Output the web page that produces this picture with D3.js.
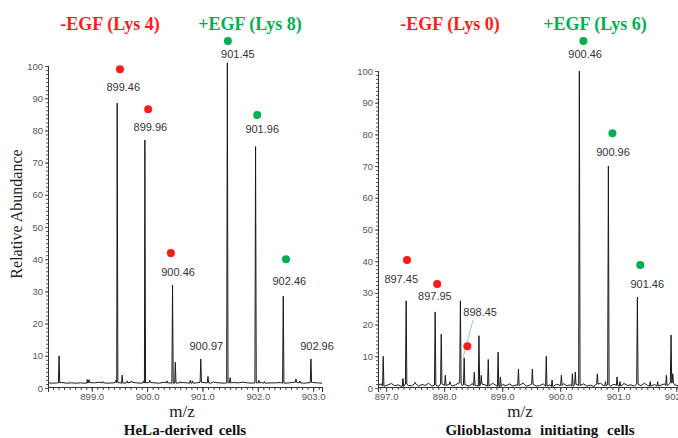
<!DOCTYPE html>
<html>
<head>
<meta charset="utf-8">
<script src="https://cdn.jsdelivr.net/npm/d3@7"></script>
<style>
body { margin: 0; background: #fff; }
svg { display: block; }
.serif { font-family: "Liberation Serif", "DejaVu Serif", "Times New Roman", Times, serif; }
.sans { font-family: "Liberation Sans", Arial, sans-serif; }
</style>
</head>
<body>
<svg id="chart"></svg>
<script>
// HeLa spectrum: [m/z, relative abundance]
const helaPeaks = [
    [898.41, 10], [898.92, 2.6], [898.95, 2.6], [899.20, 2.0], [899.44, 2.4],
    [899.46, 88.5], [899.55, 4.0], [899.64, 2.2], [899.72, 2.2], [899.94, 2.2],
    [899.96, 77], [900.05, 2.4], [900.36, 2.2], [900.46, 32], [900.51, 8],
    [900.60, 2.0], [900.78, 2.4], [900.82, 2.2], [900.97, 9], [901.10, 3.6],
    [901.20, 2.0], [901.45, 101], [901.50, 3.2], [901.96, 75], [902.02, 2.4],
    [902.12, 2.0], [902.46, 28.5], [902.69, 2.8], [902.76, 2.2], [902.96, 9]
];
const helaNoise = [1.6, 1.5, 1.6, 1.7, 1.5, 1.6, 1.5, 1.6, 1.5, 1.7, 1.6, 1.8, 1.6, 1.5, 1.6,
    1.7, 1.5, 1.6, 1.8, 1.6, 1.5, 1.6, 1.7, 1.6, 1.5, 1.8, 1.6, 1.5, 1.6, 1.7, 1.6, 1.5, 1.6,
    1.8, 1.6, 1.5, 1.7, 1.6, 1.5, 1.6, 1.7, 1.6, 1.8, 1.6, 1.5, 1.6, 1.7, 1.5, 1.6, 1.6, 1.7,
    1.5, 1.6, 1.8, 1.6, 1.5, 1.6, 1.7, 1.6, 1.5];
const helaTicks = [899, 900, 901, 902, 903];
// isotope annotations: group, label, dot (m/z, level), text (m/z, level)
const helaMarks = [
    { group: "minus", label: "899.46", dot: [899.51, 99], text: [899.57, 93.5] },
    { group: "minus", label: "899.96", dot: [900.02, 86.6], text: [900.06, 81] },
    { group: "minus", label: "900.46", dot: [900.43, 41.9], text: [900.56, 36] },
    { group: "none", label: "900.97", dot: null, text: [901.07, 13] },
    { group: "plus", label: "901.45", dot: [901.46, 107.8], text: [901.64, 103.7] },
    { group: "plus", label: "901.96", dot: [901.99, 84.8], text: [902.08, 80.4] },
    { group: "plus", label: "902.46", dot: [902.51, 40], text: [902.57, 33.2] },
    { group: "none", label: "902.96", dot: null, text: [903.07, 13] }
];

// Glioblastoma spectrum
const gbmPeaks = [
    [896.95, 10], [897.29, 3], [897.345, 27.5], [897.50, 1.8], [897.845, 24],
    [897.95, 17], [898.02, 4], [898.10, 2], [898.28, 27.5], [898.345, 9.5],
    [898.52, 5], [898.60, 16.5], [898.64, 4], [898.76, 9], [898.93, 11.3],
    [898.97, 3.5], [899.28, 6], [899.52, 6], [899.76, 10], [899.86, 2.5],
    [900.02, 4], [900.21, 4.5], [900.26, 5], [900.33, 100], [900.64, 4.5],
    [900.78, 2], [900.83, 70], [900.98, 3.5], [901.03, 2], [901.33, 28.7],
    [901.55, 2], [901.68, 2], [901.83, 4], [901.91, 16.7], [901.94, 4.5]
];
const gbmNoise = [0.8, 1.3, 0.6, 1.0, 1.4, 0.7, 1.0, 0.5, 1.2, 0.8, 0.7, 1.3, 0.6, 1.1, 0.8,
    1.5, 0.6, 0.9, 0.5, 1.3, 0.8, 1.1, 0.6, 1.0, 1.6, 0.7, 1.0, 0.6, 1.4, 0.8, 0.6, 1.2, 0.9,
    0.6, 1.5, 0.8, 0.5, 1.1, 0.7, 1.3, 0.6, 1.0, 0.8, 1.6, 0.6, 0.9, 1.2, 0.6, 0.8, 1.3, 0.6,
    1.0, 0.5, 1.2, 0.8, 1.4, 0.7, 1.0, 0.6, 1.1, 0.8, 1.3, 0.6, 0.9, 0.5, 1.2, 1.5, 0.7, 1.0,
    0.6, 1.2, 0.8, 0.6, 1.4, 0.8, 1.0, 0.6, 1.2, 0.7, 1.5, 0.8, 0.6, 1.1, 0.6, 0.9, 1.3, 0.8,
    1.6, 1.0, 0.7];
const gbmTicks = [897, 898, 899, 900, 901, 902];
const gbmMarks = [
    { group: "plus", label: "900.46", dot: [900.40, 109.5], text: [900.43, 105.4] },
    { group: "plus", label: "900.96", dot: [900.90, 80.4], text: [900.91, 74.4] },
    { group: "plus", label: "901.46", dot: [901.38, 38.8], text: [901.50, 32.8] },
    { group: "minus", label: "897.45", dot: [897.36, 40.4], text: [897.26, 34.4] },
    { group: "minus", label: "897.95", dot: [897.88, 32.8], text: [897.84, 29] },
    { group: "minus", label: "898.45", dot: [898.40, 13.2], text: [898.62, 24], leader: [[898.50, 21.5], [898.33, 9.8]] }
];

const yTicks = [0, 10, 20, 30, 40, 50, 60, 70, 80, 90, 100];

const width = 678, height = 438;
const red = "#ff1a1a", green = "#00b050";
const colorOf = g => g === "minus" ? red : green;

const svg = d3.select("#chart")
    .attr("width", width)
    .attr("height", height)
    .attr("class", "sans");

function drawPanel(p) {
    const x = d3.scaleLinear().domain(p.domain).range(p.xRange);
    const y = d3.scaleLinear().domain([0, 100]).range([p.y0, p.y100]);
    const g = svg.append("g");

    // spectrum trace: sampled baseline plus narrow peak profiles
    const w = 0.012;
    const step = (p.domain[1] - p.domain[0]) / (p.noise.length - 1);
    const base = m => p.noise[Math.max(0, Math.min(p.noise.length - 1, Math.round((m - p.domain[0]) / step)))];
    let pts = p.noise.map((v, i) => [p.domain[0] + i * step, v])
        .filter(([m]) => !p.peaks.some(([pm]) => Math.abs(pm - m) < w * 1.5));
    p.peaks.forEach(([m, h]) => {
        pts.push([m - w, base(m)], [m, h], [m + w, base(m)]);
    });
    pts.sort((a, b) => a[0] - b[0]);

    g.append("path")
        .datum(pts)
        .attr("fill", "none")
        .attr("stroke", "#1a1a1a")
        .attr("stroke-width", 1)
        .attr("d", d3.line().x(d => x(d[0])).y(d => y(d[1])));

    // x axis: minor ticks then labelled majors
    const axisY = p.y0 - 1;
    const minor = d3.range(Math.ceil(p.domain[0] * 10), Math.floor(p.domain[1] * 10) + 1).map(v => v / 10);
    const xa = g.append("g").attr("transform", `translate(0,${axisY})`);
    xa.call(d3.axisBottom(x).tickValues(minor).tickSize(3).tickFormat(""));
    xa.append("g").call(d3.axisBottom(x).tickValues(p.ticks).tickSize(5).tickFormat(d3.format(".1f")));
    xa.attr("font-family", null);
    xa.selectAll("g").attr("font-family", null);
    xa.selectAll(".domain").attr("stroke", "#333");
    xa.selectAll("line").attr("stroke", "#444");
    xa.selectAll("text").attr("fill", "#555").attr("font-size", 9.5).attr("dy", "0.55em");

    // y axis
    const ya = g.append("g").attr("transform", `translate(${p.xRange[0]},0)`);
    ya.call(d3.axisLeft(y).tickValues(d3.range(0, 101, 1.25)).tickSize(2).tickFormat(""));
    ya.append("g").call(d3.axisLeft(y).tickValues(yTicks).tickSize(3).tickPadding(2));
    ya.attr("font-family", null);
    ya.selectAll("g").attr("font-family", null);
    ya.selectAll(".domain").attr("stroke", "#333");
    ya.selectAll("line").attr("stroke", "#555");
    ya.selectAll("text").attr("fill", "#555").attr("font-size", 9.5);

    // annotations
    p.marks.forEach(mk => {
        if (mk.leader) {
            g.append("line")
                .attr("x1", x(mk.leader[0][0])).attr("y1", y(mk.leader[0][1]))
                .attr("x2", x(mk.leader[1][0])).attr("y2", y(mk.leader[1][1]))
                .attr("stroke", "#8fd88f").attr("stroke-width", 1);
        }
        if (mk.dot) {
            g.append("circle")
                .attr("cx", x(mk.dot[0])).attr("cy", y(mk.dot[1]))
                .attr("r", 4).attr("fill", colorOf(mk.group));
        }
        g.append("text")
            .attr("x", x(mk.text[0])).attr("y", y(mk.text[1]))
            .attr("text-anchor", "middle").attr("dominant-baseline", "central")
            .attr("fill", "#333").attr("font-size", 11)
            .text(mk.label);
    });

    // headings
    p.titles.forEach(t => {
        svg.append("text")
            .attr("class", "serif")
            .attr("x", t.x).attr("y", 30)
            .attr("text-anchor", "middle")
            .attr("fill", colorOf(t.group))
            .attr("font-weight", "bold").attr("font-size", 18)
            .text(t.text);
    });

    svg.append("text")
        .attr("class", "serif")
        .attr("x", p.mzX).attr("y", 417)
        .attr("text-anchor", "middle").attr("fill", "#222")
        .attr("font-size", 17)
        .text("m/z");

    svg.append("text")
        .attr("class", "serif")
        .attr("x", p.capX).attr("y", 435)
        .attr("text-anchor", "middle").attr("fill", "#111")
        .attr("font-weight", "bold").attr("font-size", 15)
        .attr("word-spacing", p.wordSpacing)
        .text(p.caption);
}

drawPanel({
    domain: [898.21, 903.16], xRange: [48, 322], y0: 388, y100: 66,
    peaks: helaPeaks, noise: helaNoise, ticks: helaTicks, marks: helaMarks,
    titles: [{ text: "-EGF (Lys 4)", group: "minus", x: 110 }, { text: "+EGF (Lys 8)", group: "plus", x: 250 }],
    mzX: 182, capX: 185, caption: "HeLa-derived cells", wordSpacing: 2
});

drawPanel({
    domain: [896.86, 902.03], xRange: [378, 678], y0: 388, y100: 71,
    peaks: gbmPeaks, noise: gbmNoise, ticks: gbmTicks, marks: gbmMarks,
    titles: [{ text: "-EGF (Lys 0)", group: "minus", x: 450 }, { text: "+EGF (Lys 6)", group: "plus", x: 595 }],
    mzX: 520, capX: 540, caption: "Glioblastoma initiating cells", wordSpacing: 5
});

// y axis title
svg.append("text")
    .attr("class", "serif")
    .attr("transform", "translate(22,214) rotate(-90)")
    .attr("text-anchor", "middle").attr("fill", "#222")
    .attr("font-size", 16)
    .text("Relative Abundance");
</script>
</body>
</html>
